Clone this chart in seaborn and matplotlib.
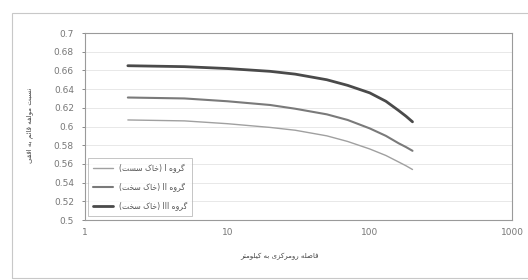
import re
import pandas as pd
import matplotlib
matplotlib.use('Agg')
import matplotlib.pyplot as plt
import seaborn as sns
from matplotlib.patches import Rectangle

# distance (km) and V/H ratio for the three site groups
distance = [2, 5, 10, 20, 30, 50, 70, 100, 130, 160, 180, 200]
group_1 = [0.607, 0.606, 0.603, 0.599, 0.596, 0.590, 0.584, 0.576, 0.569, 0.562, 0.558, 0.554]
group_2 = [0.631, 0.630, 0.627, 0.623, 0.619, 0.613, 0.607, 0.598, 0.590, 0.582, 0.578, 0.574]
group_3 = [0.665, 0.664, 0.662, 0.659, 0.656, 0.650, 0.644, 0.636, 0.627, 0.617, 0.611, 0.605]

labels = ['گروه I (خاک سست)', 'گروه II (خاک سخت)', 'گروه III (خاک سخت)']
x_ticks = [1, 10, 100, 1000]
y_ticks = [0.5, 0.52, 0.54, 0.56, 0.58, 0.6, 0.62, 0.64, 0.66, 0.68, 0.7]
x_title = 'فاصله رومرکزی به کیلومتر'
y_title = 'نسبت مولفه قائم به افقی'

# minimal Persian shaping (presentation forms) + visual ordering
FORMS = {
    'ا': ('\uFE8D', '\uFE8E', None, None),
    'ب': ('\uFE8F', '\uFE90', '\uFE91', '\uFE92'),
    'ت': ('\uFE95', '\uFE96', '\uFE97', '\uFE98'),
    'خ': ('\uFEA5', '\uFEA6', '\uFEA7', '\uFEA8'),
    'د': ('\uFEA9', '\uFEAA', None, None),
    'ر': ('\uFEAD', '\uFEAE', None, None),
    'ز': ('\uFEAF', '\uFEB0', None, None),
    'س': ('\uFEB1', '\uFEB2', '\uFEB3', '\uFEB4'),
    'ص': ('\uFEB9', '\uFEBA', '\uFEBB', '\uFEBC'),
    'ط': ('\uFEC1', '\uFEC2', '\uFEC3', '\uFEC4'),
    'ف': ('\uFED1', '\uFED2', '\uFED3', '\uFED4'),
    'ق': ('\uFED5', '\uFED6', '\uFED7', '\uFED8'),
    'ل': ('\uFEDD', '\uFEDE', '\uFEDF', '\uFEE0'),
    'م': ('\uFEE1', '\uFEE2', '\uFEE3', '\uFEE4'),
    'ن': ('\uFEE5', '\uFEE6', '\uFEE7', '\uFEE8'),
    'ه': ('\uFEE9', '\uFEEA', '\uFEEB', '\uFEEC'),
    'و': ('\uFEED', '\uFEEE', None, None),
    'ئ': ('\uFE89', '\uFE8A', '\uFE8B', '\uFE8C'),
    'ک': ('\uFB8E', '\uFB8F', '\uFB90', '\uFB91'),
    'گ': ('\uFB92', '\uFB93', '\uFB94', '\uFB95'),
    'ی': ('\uFBFC', '\uFBFD', '\uFBFE', '\uFBFF'),
}


def rtl(s):
    out = []
    for i, c in enumerate(s):
        if c not in FORMS:
            out.append(c)
            continue
        prev = s[i - 1] if i > 0 else ''
        nxt = s[i + 1] if i + 1 < len(s) else ''
        jp = prev in FORMS and FORMS[prev][2] is not None
        jn = nxt in FORMS and FORMS[c][2] is not None
        iso, fin, ini, med = FORMS[c]
        out.append(med if jp and jn else fin if jp else ini if jn else iso)
    vis = ''.join(out)[::-1].translate({ord('('): ')', ord(')'): '('})
    return re.sub(r'[A-Za-z0-9.]+', lambda m: m.group(0)[::-1], vis)


rows = []
for lab, vals in zip(labels, [group_1, group_2, group_3]):
    for d, v in zip(distance, vals):
        rows.append({'distance': d, 'ratio': v, 'group': rtl(lab)})
df = pd.DataFrame(rows)

sns.set_style('white')
plt.rcParams['font.family'] = ['DejaVu Sans']

fig = plt.figure(figsize=(5.28, 2.8), dpi=100)
ax = fig.add_axes([85 / 528, 1 - 220 / 280, (512 - 85) / 528, (220 - 33) / 280])

colors = ['#a0a0a0', '#7a7a7a', '#4a4a4a']
widths = [1.0, 1.5, 2.0]
for lab, col, lw in zip(labels, colors, widths):
    sns.lineplot(data=df[df['group'] == rtl(lab)], x='distance', y='ratio',
                 color=col, linewidth=lw, label=rtl(lab), ax=ax)

ax.set_xscale('log')
ax.set_xlim(1, 1000)
ax.set_ylim(0.5, 0.7)
ax.set_xticks(x_ticks)
ax.set_xticklabels([str(t) for t in x_ticks])
ax.minorticks_off()
ax.set_yticks(y_ticks)
ax.set_yticklabels(['%g' % t for t in y_ticks])
ax.tick_params(axis='both', labelsize=6.5, colors='#777777', length=0, pad=6)
ax.tick_params(axis='y', length=2, width=0.6, direction='out', left=True)
ax.grid(axis='y', color='#e4e4e4', linewidth=0.6)
for sp in ax.spines.values():
    sp.set_color('#9a9a9a')
    sp.set_linewidth(0.8)
ax.set_xlabel('')
ax.set_ylabel('')

leg = ax.legend(loc='lower left', bbox_to_anchor=(0.006, 0.02), fontsize=5.5,
                frameon=True, fancybox=False, borderaxespad=0, handlelength=2.6,
                labelspacing=1.3, borderpad=0.7)
leg.get_frame().set_edgecolor('#aaaaaa')
leg.get_frame().set_linewidth(0.6)
for t in leg.get_texts():
    t.set_color('#555555')

fig.text(280 / 528, 1 - 256 / 280, rtl(x_title), fontsize=5, color='#444444',
         ha='center', va='center')
fig.text(30 / 528, 1 - 125 / 280, rtl(y_title), fontsize=5, color='#444444',
         ha='center', va='center', rotation=90)

fig.add_artist(Rectangle((12 / 528, 2 / 280), 1.1, 1 - 15 / 280, transform=fig.transFigure,
                         fill=False, edgecolor='#c8c8c8', linewidth=0.8))

fig.savefig('out.png', dpi=100)
